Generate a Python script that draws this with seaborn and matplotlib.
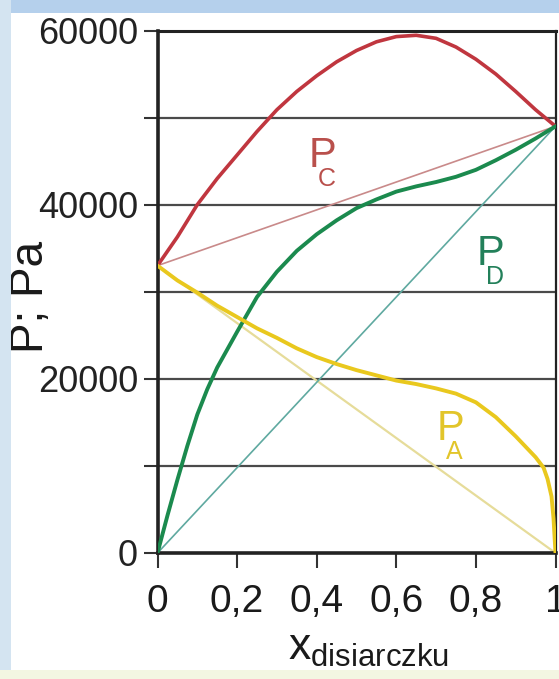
import matplotlib
matplotlib.use("Agg")
import matplotlib.pyplot as plt
import matplotlib.transforms as mtransforms
import seaborn as sns
import numpy as np
import pandas as pd
from matplotlib.patches import Rectangle

# ---- data ----
x_c = [0, 0.05, 0.1, 0.15, 0.2, 0.25, 0.3, 0.35, 0.4, 0.45, 0.5,
       0.55, 0.6, 0.65, 0.7, 0.75, 0.8, 0.85, 0.9, 0.95, 1.0]
p_c = [33000, 36300, 40000, 43000, 45700, 48400, 50900, 53000, 54800, 56400, 57700,
       58700, 59300, 59450, 59100, 58100, 56700, 55000, 53000, 50900, 49000]
x_d = [0, 0.025, 0.05, 0.075, 0.1, 0.125, 0.15, 0.2, 0.25, 0.3, 0.35, 0.4, 0.45, 0.5,
       0.55, 0.6, 0.65, 0.7, 0.75, 0.8, 0.85, 0.9, 0.95, 1.0]
p_d = [0, 4300, 8400, 12300, 15900, 18800, 21300, 25400, 29400, 32300, 34700, 36600,
       38200, 39600, 40600, 41500, 42100, 42600, 43200, 44000, 45100, 46300, 47600, 49000]
x_a = [0, 0.05, 0.1, 0.15, 0.2, 0.25, 0.3, 0.35, 0.4, 0.45, 0.5, 0.55, 0.6,
       0.65, 0.7, 0.75, 0.8, 0.85, 0.9, 0.95, 0.97, 0.98, 0.99, 0.995, 1.0]
p_a = [33000, 31300, 29900, 28400, 27100, 25800, 24700, 23500, 22500, 21700, 21000,
       20400, 19800, 19400, 18900, 18300, 17300, 15600, 13400, 11000, 9800, 8500,
       6500, 4000, 0]
# ideal (Raoult) straight lines: endpoints
x_ideal = [0, 1]
p_c_ideal = [33000, 49000]
p_a_ideal = [33000, 0]
p_d_ideal = [0, 49000]

x_ticks = [0, 0.2, 0.4, 0.6, 0.8, 1.0]
x_ticklabels = ["0", "0,2", "0,4", "0,6", "0,8", "1"]
y_ticks = [0, 10000, 20000, 30000, 40000, 50000, 60000]
y_ticklabels = ["0", "", "20000", "", "40000", "", "60000"]
curve_labels = [("P", "C", 0.379, 44360), ("P", "D", 0.803, 33070), ("P", "A", 0.702, 12980)]

# ---- style ----
sns.set_theme(style="white")
plt.rcParams["font.family"] = ["Liberation Sans", "DejaVu Sans"]
plt.rcParams["mathtext.fontset"] = "custom"
plt.rcParams["mathtext.rm"] = "Liberation Sans"
plt.rcParams["mathtext.it"] = "Liberation Sans"

RED = "#c0363f"
GREEN = "#1b8a4e"
YELLOW = "#e9c81e"
RED_T = "#c98a8a"
GREEN_T = "#5fa9a0"
YELLOW_T = "#e6dc9a"

fig = plt.figure(figsize=(5.59, 6.79), dpi=100)
fig.patch.set_facecolor("white")
# decorative frame of the slide
fig.patches.append(Rectangle((0, 1 - 13 / 679), 1, 13 / 679, transform=fig.transFigure,
                             facecolor="#b5d0ec", edgecolor="none", zorder=0))
fig.patches.append(Rectangle((0, 0), 11 / 559, 1, transform=fig.transFigure,
                             facecolor="#d4e4f1", edgecolor="none", zorder=0))
fig.patches.append(Rectangle((0, 0), 1, 9 / 679, transform=fig.transFigure,
                             facecolor="#f3f6e2", edgecolor="none", zorder=0))

ax = fig.add_axes([157.5 / 559, 1 - 553 / 679, 398 / 559, 522.5 / 679])
ax.set_facecolor("white")

for yv in [10000, 20000, 30000, 40000, 50000]:
    ax.axhline(yv, color="#4a4a4a", lw=1.6, zorder=1)

df_ideal = pd.DataFrame({"x": x_ideal, "c": p_c_ideal, "a": p_a_ideal, "d": p_d_ideal})
sns.lineplot(data=df_ideal, x="x", y="c", ax=ax, color=RED_T, lw=1.2, zorder=2)
sns.lineplot(data=df_ideal, x="x", y="a", ax=ax, color=YELLOW_T, lw=1.6, zorder=2)
sns.lineplot(data=df_ideal, x="x", y="d", ax=ax, color=GREEN_T, lw=1.2, zorder=2)

sns.lineplot(x=x_c, y=p_c, ax=ax, color=RED, lw=2.6, zorder=3)
sns.lineplot(x=x_d, y=p_d, ax=ax, color=GREEN, lw=2.8, zorder=3)
sns.lineplot(x=x_a, y=p_a, ax=ax, color=YELLOW, lw=2.8, zorder=3)

label_colors = {"C": "#b9504c", "D": "#23805a", "A": "#e2c52a"}
sub_offset = mtransforms.offset_copy(ax.transData, fig=fig, x=9, y=-19, units="dots")
for main, sub, lx, ly in curve_labels:
    ax.text(lx, ly, main, fontsize=30, color=label_colors[sub],
            ha="left", va="baseline", zorder=4)
    ax.text(lx, ly, sub, fontsize=18, color=label_colors[sub],
            ha="left", va="baseline", zorder=4, transform=sub_offset)

ax.set_xlim(0, 1)
ax.set_ylim(0, 60000)
ax.set_xticks(x_ticks)
ax.set_xticklabels(x_ticklabels)
ax.set_yticks(y_ticks)
ax.set_yticklabels(y_ticklabels)
ax.tick_params(axis="x", direction="out", length=11, width=1.5, color="#333333",
               labelsize=28, labelcolor="#1a1a1a", pad=11, bottom=True)
ax.tick_params(axis="y", direction="out", length=10, width=1.5, color="#333333",
               labelsize=26, labelcolor="#222222", pad=4, left=True)

for side, lw in [("left", 2.6), ("bottom", 2.6), ("top", 2.2), ("right", 1.6)]:
    ax.spines[side].set_color("#222222")
    ax.spines[side].set_linewidth(lw)
    ax.spines[side].set_visible(True)

ax.set_xlabel(r"$\mathrm{x}_{\mathrm{disiarczku}}$", fontsize=32, color="#1a1a1a")
ax.xaxis.label.set_va("baseline")
ax.xaxis.set_label_coords(0.53, -0.205)
ax.set_ylabel("P; Pa", fontsize=33, color="#1a1a1a")
ax.yaxis.set_label_coords(-0.262, 0.49)

fig.savefig("out.png", dpi=100, facecolor=fig.get_facecolor())
